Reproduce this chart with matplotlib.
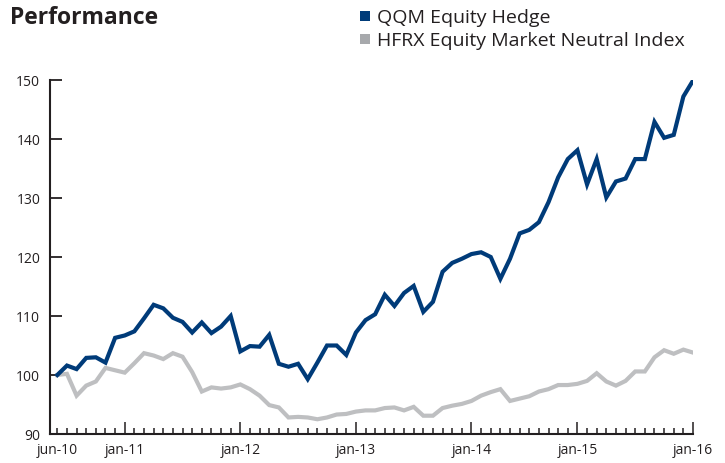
import matplotlib.pyplot as plt
from matplotlib.patches import Rectangle

plt.rcParams["font.family"] = ["Open Sans", "DejaVu Sans"]

# monthly index values, jun-10 .. jan-16 (67 points as in the source chart)
qqm = [100.0, 101.6, 101.0, 102.9, 103.0, 102.1, 106.3, 106.7, 107.4, 109.6,
       111.9, 111.3, 109.7, 109.0, 107.2, 108.9, 107.1, 108.2, 110.0, 104.0,
       104.9, 104.8, 106.8, 101.9, 101.4, 101.9, 99.3, 102.1, 105.0, 105.0,
       103.4, 107.2, 109.3, 110.3, 113.6, 111.7, 113.9, 115.1, 110.7, 112.4,
       117.5, 119.0, 119.7, 120.5, 120.8, 120.0, 116.3, 119.7, 124.0, 124.6,
       125.9, 129.3, 133.5, 136.6, 138.1, 132.3, 136.6, 130.1, 132.8, 133.3,
       136.6, 136.6, 142.9, 140.2, 140.7, 147.2, 149.9]
hfrx = [100.0, 100.2, 96.5, 98.2, 98.9, 101.2, 100.8, 100.4, 102.0, 103.7,
        103.3, 102.7, 103.7, 103.1, 100.5, 97.2, 97.9, 97.7, 97.9, 98.4,
        97.6, 96.5, 94.9, 94.5, 92.8, 92.9, 92.8, 92.5, 92.8, 93.3,
        93.4, 93.8, 94.0, 94.0, 94.4, 94.5, 94.0, 94.6, 93.1, 93.1,
        94.4, 94.8, 95.1, 95.6, 96.5, 97.1, 97.6, 95.6, 96.0, 96.4,
        97.2, 97.6, 98.3, 98.3, 98.5, 99.0, 100.3, 98.9, 98.2, 99.0,
        100.6, 100.6, 103.0, 104.2, 103.6, 104.3, 103.8]
label_pos = [0, 7, 19, 31, 43, 54, 66]
label_txt = ["jun-10", "jan-11", "jan-12", "jan-13", "jan-14", "jan-15", "jan-16"]
yticks = [90, 100, 110, 120, 130, 140, 150]
names = ["QQM Equity Hedge", "HFRX Equity Market Neutral Index"]

blue = "#003B79"
grey = "#BEBFC1"
dark = "#231F20"

fig = plt.figure(figsize=(7.25, 4.64), dpi=100)
ax = fig.add_axes([50 / 725, 1 - 435 / 464, (693 - 50) / 725, (435 - 81) / 464])

x = list(range(len(qqm)))
ax.plot(x, hfrx, color=grey, lw=3.0, solid_joinstyle="miter", zorder=2)
ax.plot(x, qqm, color=blue, lw=3.0, solid_joinstyle="miter", zorder=3)

ax.set_xlim(-0.76, 66)
ax.set_ylim(90, 150)

for s in ["top", "right"]:
    ax.spines[s].set_visible(False)
for s in ["left", "bottom"]:
    ax.spines[s].set_linewidth(1.5)
    ax.spines[s].set_color(dark)

ax.set_yticks(yticks)
ax.set_yticklabels([str(v) for v in yticks])
ax.set_xticks(label_pos)
ax.set_xticklabels(label_txt)
ax.set_xticks([i for i in x if i not in label_pos], minor=True)

ax.tick_params(axis="y", direction="in", length=8.5, width=1.3, color=dark,
               labelsize=10, labelcolor=dark, pad=7)
ax.tick_params(axis="x", which="major", direction="in", length=8.5, width=1.1,
               color=dark, labelsize=10, labelcolor=dark, pad=6)
ax.tick_params(axis="x", which="minor", direction="in", length=4.3, width=1.1,
               color=dark)
# jun-10 is drawn with a short tick in the source
ax.xaxis.get_major_ticks()[0].tick1line.set_markersize(4.3)

fig.text(10 / 725, 1 - 18 / 464, "Performance", fontsize=16.5, fontweight="bold",
         color=dark, va="center", ha="left")

for k, (name, c) in enumerate(zip(names, [blue, "#A7A9AC"])):
    yc = 17 + k * 23
    fig.patches.append(Rectangle((360 / 725, 1 - (yc + 5) / 464), 10 / 725, 10 / 464,
                                 transform=fig.transFigure, color=c, lw=0))
    fig.text(377 / 725, 1 - (yc + 1) / 464, name, fontsize=14, color=dark,
             va="center", ha="left")

fig.savefig("out.png", dpi=100)
